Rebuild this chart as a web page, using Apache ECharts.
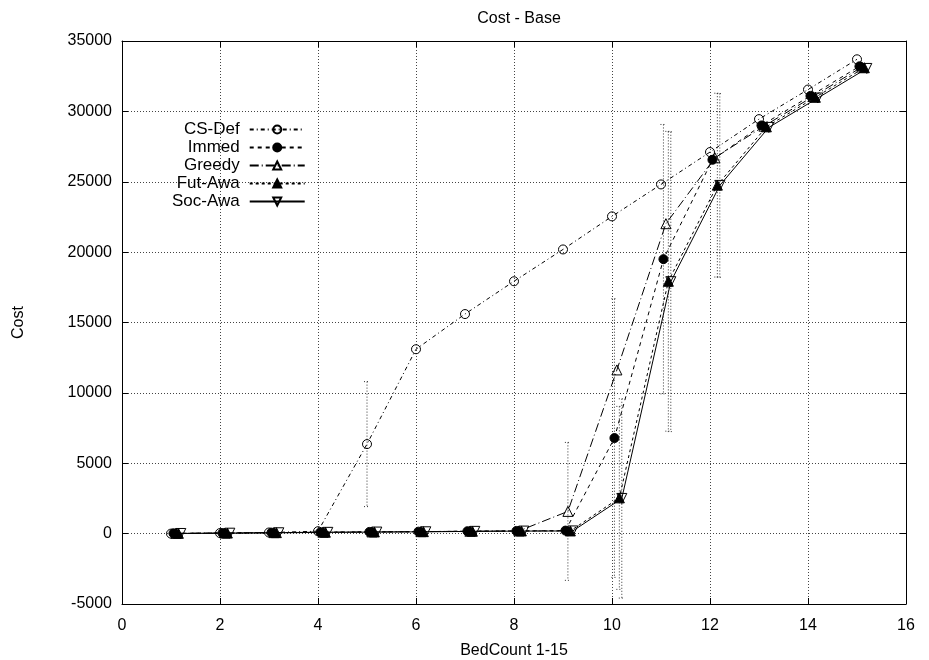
<!DOCTYPE html>
<html>
<head>
<meta charset="utf-8">
<script src="https://cdn.jsdelivr.net/npm/echarts@6/dist/echarts.min.js"></script>
<style>
  html, body { margin: 0; padding: 0; background: #fff; }
  #chart { width: 929px; height: 660px; }
</style>
</head>
<body>
<div id="chart"></div>
<script>
// Bed counts on the x axis
const bedCounts = [1, 2, 3, 4, 5, 6, 7, 8, 9, 10, 11, 12, 13, 14, 15];

// Mean cost per strategy
const csDef  = [0, 40, 80, 170, 6360, 13100, 15600, 17930, 20190, 22540, 24810, 27110, 29450, 31550, 33700];
const immed  = [20, 40, 70, 100, 120, 140, 170, 190, 215, 6790, 19500, 26560, 29000, 31100, 33200];
const greedy = [20, 40, 70, 100, 120, 140, 170, 190, 1580, 11630, 22020, 26700, 28950, 31050, 33150];
const futAwa = [20, 40, 70, 100, 120, 140, 170, 190, 190, 2540, 17930, 24760, 28900, 31000, 33100];
const socAwa = [10, 30, 60, 90, 110, 130, 160, 180, 190, 2500, 17900, 24740, 28860, 30950, 33050];

// Half-width of the error bar at each bed count (0 = no visible bar)
const csDefErr  = [0, 0, 0, 0, 4440, 0, 0, 0, 0, 0, 0, 0, 0, 0, 0];
const immedErr  = [0, 0, 0, 0, 0, 0, 0, 0, 0, 9900, 9570, 0, 0, 0, 0];
const greedyErr = [0, 0, 0, 0, 0, 0, 0, 0, 4900, 0, 0, 0, 0, 0, 0];
const futAwaErr = [0, 0, 0, 0, 0, 0, 0, 0, 0, 6500, 10650, 6530, 0, 0, 0];
const socAwaErr = [0, 0, 0, 0, 0, 0, 0, 0, 0, 7080, 10650, 6530, 0, 0, 0];

// Axis ticks
const xTicks = [0, 2, 4, 6, 8, 10, 12, 14, 16];
const yTicks = [-5000, 0, 5000, 10000, 15000, 20000, 25000, 30000, 35000];

const FONT = '"Liberation Sans", Arial, Helvetica, sans-serif';
const HOLLOW = 'rgba(255,255,255,0)';

function points(values, shift) {
  return bedCounts.map((b, i) => [b + shift, values[i]]);
}

function lineSeries(name, values, shift, symbol, filled, dash, rotate) {
  return {
    name: name,
    type: 'line',
    data: points(values, shift),
    symbol: symbol,
    symbolSize: symbol === 'circle' ? 9 : 10,
    symbolRotate: rotate || 0,
    showAllSymbol: true,
    z: 3,
    lineStyle: { color: '#000', width: 1, type: dash },
    itemStyle: { color: filled ? '#000' : HOLLOW, borderColor: '#000', borderWidth: 1 },
    emphasis: { disabled: true },
    animation: false
  };
}

function errorSeries(values, errs, shift) {
  const data = [];
  bedCounts.forEach((b, i) => {
    if (errs[i] > 0) data.push([b + shift, values[i] - errs[i], values[i] + errs[i]]);
  });
  return {
    type: 'custom',
    silent: true,
    z: 2,
    animation: false,
    encode: { x: 0, y: [1, 2] },
    data: data,
    renderItem: function (params, api) {
      const x = api.value(0);
      const lo = api.coord([x, api.value(1)]);
      const hi = api.coord([x, api.value(2)]);
      const cap = 3;
      const style = { stroke: '#333', lineWidth: 1, lineDash: [1, 2], fill: null };
      return {
        type: 'group',
        children: [
          { type: 'line', shape: { x1: hi[0], y1: hi[1], x2: lo[0], y2: lo[1] }, style: style },
          { type: 'line', shape: { x1: hi[0] - cap, y1: hi[1], x2: hi[0] + cap, y2: hi[1] }, style: style },
          { type: 'line', shape: { x1: lo[0] - cap, y1: lo[1], x2: lo[0] + cap, y2: lo[1] }, style: style }
        ]
      };
    }
  };
}

const gridLine = { show: true, lineStyle: { color: '#444', width: 1, type: [1, 2] } };
const frameLine = { show: true, onZero: false, lineStyle: { color: '#000', width: 1 } };
const inTick = { show: true, inside: true, length: 6, lineStyle: { color: '#000' } };
const plain = v => String(v);

const chart = echarts.init(document.getElementById('chart'), null, { renderer: 'canvas' });
chart.setOption({
  backgroundColor: '#fff',
  animation: false,
  textStyle: { fontFamily: FONT },
  title: {
    text: 'Cost - Base',
    left: 514, top: 6, textAlign: 'center',
    textStyle: { fontFamily: FONT, fontSize: 16, fontWeight: 'normal', color: '#000' }
  },
  grid: { left: 122, right: 23, top: 41, bottom: 56, containLabel: false, outerBoundsMode: 'none' },
  legend: {
    orient: 'vertical',
    align: 'right',
    left: 167, top: 116,
    itemWidth: 55, itemHeight: 10, itemGap: 1,
    selectedMode: false,
    textStyle: { fontFamily: FONT, fontSize: 17, color: '#000', lineHeight: 16, padding: [0, 5, 0, 0] },
    data: ['CS-Def', 'Immed', 'Greedy', 'Fut-Awa', 'Soc-Awa']
  },
  xAxis: [
    {
      type: 'value', min: xTicks[0], max: xTicks[xTicks.length - 1], interval: 2,
      name: 'BedCount 1-15', nameLocation: 'middle', nameGap: 39,
      nameTextStyle: { fontFamily: FONT, fontSize: 16, color: '#000' },
      axisLine: frameLine, axisTick: inTick,
      axisLabel: { fontFamily: FONT, fontSize: 16, color: '#000', margin: 14, formatter: plain },
      splitLine: gridLine
    },
    {
      type: 'value', position: 'top', min: xTicks[0], max: xTicks[xTicks.length - 1], interval: 2,
      axisLine: frameLine, axisTick: inTick, axisLabel: { show: false }, splitLine: { show: false }
    }
  ],
  yAxis: [
    {
      type: 'value', min: yTicks[0], max: yTicks[yTicks.length - 1], interval: 5000,
      name: 'Cost', nameLocation: 'middle', nameGap: 95, nameRotate: 90,
      nameTextStyle: { fontFamily: FONT, fontSize: 16, color: '#000' },
      axisLine: frameLine, axisTick: inTick,
      axisLabel: { fontFamily: FONT, fontSize: 16, color: '#000', margin: 10, formatter: plain },
      splitLine: gridLine
    },
    {
      type: 'value', position: 'right', min: yTicks[0], max: yTicks[yTicks.length - 1], interval: 5000,
      axisLine: frameLine, axisTick: inTick, axisLabel: { show: false }, splitLine: { show: false }
    }
  ],
  series: [
    errorSeries(csDef, csDefErr, 0),
    errorSeries(immed, immedErr, 0.05),
    errorSeries(greedy, greedyErr, 0.1),
    errorSeries(futAwa, futAwaErr, 0.15),
    errorSeries(socAwa, socAwaErr, 0.2),
    lineSeries('CS-Def', csDef, 0, 'circle', false, [4, 3, 1, 3]),
    lineSeries('Immed', immed, 0.05, 'circle', true, [4, 4]),
    lineSeries('Greedy', greedy, 0.1, 'triangle', false, [9, 3, 1, 3]),
    lineSeries('Fut-Awa', futAwa, 0.15, 'triangle', true, [3, 3]),
    lineSeries('Soc-Awa', socAwa, 0.2, 'triangle', false, 'solid', 180)
  ]
});
</script>
</body>
</html>
